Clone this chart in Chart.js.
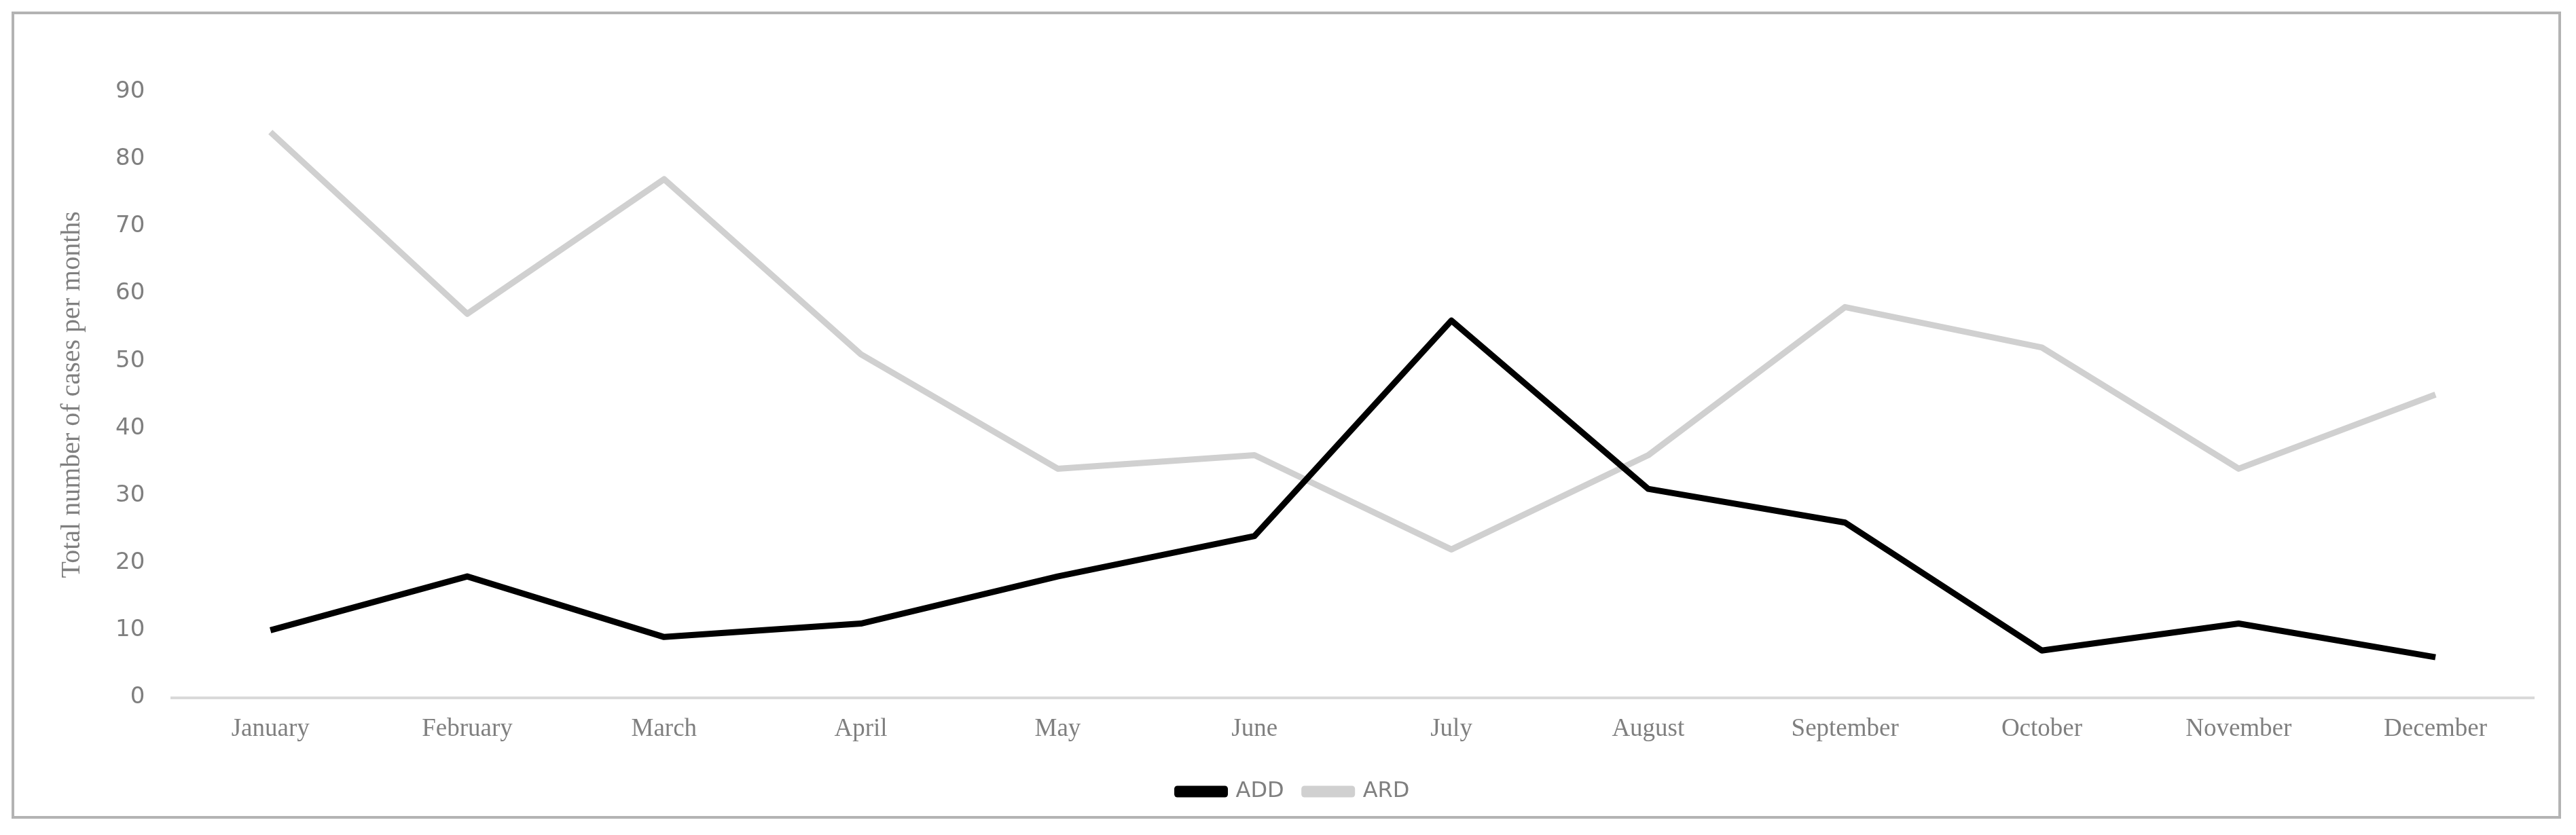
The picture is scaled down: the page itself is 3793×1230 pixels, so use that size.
<!DOCTYPE html>
<html><head><meta charset="utf-8">
<script src="https://cdn.jsdelivr.net/npm/chart.js@4"></script>
<style>
html,body{margin:0;padding:0;background:#fff;}
#wrap{position:absolute;left:0;top:0;width:3793px;height:1230px;}
#frame{position:absolute;left:17px;top:17px;width:3754px;height:1189px;border:4px solid #b3b3b3;box-sizing:border-box;pointer-events:none;}
</style></head><body>
<div id="wrap"><canvas id="c" width="3793" height="1230"></canvas></div>
<div id="frame"></div>
<script>
const months = ["January","February","March","April","May","June","July","August","September","October","November","December"];
const addValues = [10,18,9,11,18,24,56,31,26,7,11,6];
const ardValues = [84,57,77,51,34,36,22,36,58,52,34,45];
const yTitle = "Total number of cases per months";

new Chart(document.getElementById('c'), {
  type: 'line',
  data: {
    labels: months,
    datasets: [
      {label:'ADD', data:addValues, borderColor:'#000', backgroundColor:'#000', borderWidth:9, pointRadius:0, tension:0, borderJoinStyle:'round'},
      {label:'ARD', data:ardValues, borderColor:'#d0d0d0', backgroundColor:'#d0d0d0', borderWidth:9, pointRadius:0, tension:0, borderJoinStyle:'round'}
    ]
  },
  options: {
    responsive:false, animation:false, devicePixelRatio:1,
    layout:{padding:{left:78,right:62,top:135,bottom:38}},
    plugins:{
      legend:{position:'bottom', labels:{boxWidth:70, boxHeight:8, padding:30, color:'#7f7f7f', font:{family:'DejaVu Sans', size:32}}},
      tooltip:{enabled:false}
    },
    scales:{
      x:{offset:true, grid:{display:false, drawTicks:false}, border:{color:'#d9d9d9', width:4},
         ticks:{color:'#7f7f7f', padding:24, font:{family:'Liberation Serif', size:37}}},
      y:{min:0, max:90, grid:{display:false, drawTicks:false}, border:{display:false},
         ticks:{stepSize:10, color:'#7f7f7f', padding:40, font:{family:'DejaVu Sans', size:34}},
         title:{display:true, text:yTitle, color:'#7f7f7f', padding:{bottom:0}, font:{family:'Liberation Serif', size:40}}}
    }
  }
});
</script>
</body></html>
